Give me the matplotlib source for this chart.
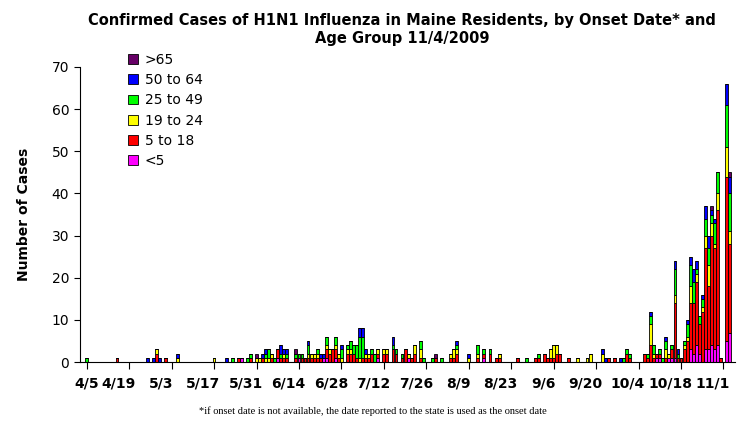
import matplotlib
matplotlib.use("Agg")
import matplotlib.pyplot as plt
import numpy as np
import datetime as dt

start = dt.date(2009, 4, 5)
days = [0,10,20,22,23,24,26,30,42,46,48,50,51,53,54,56,57,58,59,60,61,62,63,64,65,66,69,70,71,72,73,74,75,76,77,78,79,80,81,82,83,84,86,87,88,89,90,91,92,93,94,95,96,98,99,101,102,104,105,106,107,108,110,111,114,115,117,120,121,122,126,129,131,133,135,136,142,145,148,149,151,152,153,154,155,156,159,162,165,166,170,171,172,174,176,177,178,179,184,185,186,187,188,189,190,191,192,193,194,195,196,197,198,199,200,201,202,203,204,205,206,207,208,209,211,212]
lt5 =    [0,0,0,0,0,0,0,0,0,0,0,0,1,0,0,0,0,0,0,0,0,0,1,0,0,0,0,1,0,0,0,0,0,0,0,1,1,0,0,1,0,0,0,0,0,0,0,0,0,0,0,0,1,0,0,0,0,0,0,1,0,0,0,0,0,0,0,0,0,0,0,0,1,0,0,0,0,0,0,0,0,0,0,0,0,0,0,0,0,0,0,0,0,0,0,0,0,0,0,0,0,0,1,1,0,0,1,1,1,0,0,0,0,3,2,4,2,0,3,3,4,3,4,0,5,7]
a5_18 =  [0,1,0,0,2,0,1,0,0,0,0,1,0,0,1,0,0,1,0,0,1,0,2,1,1,1,1,0,1,1,1,1,1,1,1,0,2,2,3,2,1,0,2,2,2,1,0,1,1,1,2,0,1,2,2,3,2,1,3,0,1,2,1,0,0,1,0,1,1,2,0,1,1,2,1,1,1,0,1,1,2,1,1,1,2,2,1,0,0,0,0,0,1,1,0,0,2,1,2,1,4,1,1,1,0,1,0,2,13,1,1,3,5,11,12,15,7,12,24,15,26,24,32,1,39,21]
a19_24 = [0,0,0,0,1,0,0,1,1,0,0,0,0,0,0,1,1,0,1,1,1,0,0,0,1,0,0,0,0,0,1,1,1,1,0,0,1,1,0,1,1,1,1,1,0,0,1,0,1,1,0,0,1,1,1,0,0,0,0,1,0,2,2,0,0,0,0,1,2,1,1,1,0,0,0,1,0,0,0,0,0,0,2,3,2,0,0,1,1,2,2,0,0,0,0,0,0,0,0,0,5,1,0,0,0,2,1,0,2,0,0,1,1,4,0,2,0,1,3,5,3,1,4,0,7,3]
a25_49 = [1,0,0,0,0,0,0,0,0,0,1,0,0,1,1,0,0,0,1,2,0,1,0,1,0,1,1,1,1,0,2,0,0,1,0,0,2,0,0,2,0,2,1,2,2,3,5,5,0,0,1,2,0,0,0,1,1,1,0,0,0,0,2,1,1,0,1,0,0,1,0,2,1,1,0,0,0,1,0,1,0,0,0,0,0,0,0,0,0,0,0,0,0,0,0,1,1,1,0,1,2,2,0,1,1,2,0,1,6,1,0,1,3,5,5,1,2,2,4,4,2,5,5,0,10,9]
a50_64 = [0,0,1,1,0,1,0,1,0,1,0,0,0,0,0,0,0,1,1,0,0,0,0,2,1,1,0,0,0,0,1,0,0,0,1,1,0,0,0,0,0,1,0,0,0,0,2,2,1,0,0,0,0,0,0,2,0,0,0,0,0,0,0,0,0,0,0,0,0,1,1,0,0,0,0,0,0,0,0,0,0,0,0,0,0,0,0,0,0,0,1,1,0,0,1,0,0,0,0,0,1,0,0,0,0,1,0,0,2,1,0,0,1,2,3,2,0,1,3,3,1,1,0,0,5,4]
gt65 =   [0,0,0,0,0,0,0,0,0,0,0,0,0,0,0,1,0,0,0,0,0,0,0,0,0,0,1,0,0,0,0,0,0,0,0,0,0,0,0,0,0,0,0,0,0,0,0,0,0,0,0,0,0,0,0,0,0,0,0,0,0,0,0,0,0,1,0,0,0,0,0,0,0,0,0,0,0,0,0,0,0,0,0,0,0,0,0,0,0,0,0,0,0,0,0,0,0,0,0,0,0,0,0,0,0,0,0,0,0,0,0,0,0,0,0,0,0,0,0,0,1,0,0,0,0,1]

series = [("<5", lt5, "#FF00FF"), ("5 to 18", a5_18, "#FF0000"),
          ("19 to 24", a19_24, "#FFFF00"), ("25 to 49", a25_49, "#00FF00"),
          ("50 to 64", a50_64, "#0000FF"), (">65", gt65, "#660066")]

tick_days = list(range(0, 211, 14))
tick_labels = [f"{(start+dt.timedelta(d)).month}/{(start+dt.timedelta(d)).day}" for d in tick_days]

fig = plt.figure(figsize=(7.45, 4.24), dpi=100)
ax = fig.add_axes([0.107, 0.146, 0.880, 0.696])
x = np.array(days)
bottom = np.zeros(len(days))
handles = []
for name, vals, col in series:
    v = np.array(vals, dtype=float)
    h = ax.bar(x, v, bottom=bottom, width=0.95, color=col, edgecolor="black", linewidth=0.6, label=name)
    bottom += v
    handles.append(h)

ax.set_xlim(-2.3, 213.9)
ax.set_ylim(0, 70)
ax.set_yticks(range(0, 71, 10))
ax.tick_params(axis="y", labelsize=10, direction="out", length=4)
ax.set_xticks(tick_days)
ax.set_xticklabels([])
ax.tick_params(axis="x", direction="out", length=5)
for i, (d, lab) in enumerate(zip(tick_days, tick_labels)):
    pos = d if i == 0 else d - 3.5
    ax.text(pos, -0.05, lab, transform=ax.get_xaxis_transform(), ha="center", va="top",
            fontsize=10, fontweight="bold")
for s in ["top", "right"]:
    ax.spines[s].set_visible(False)
ax.set_ylabel("Number of Cases", fontsize=10, fontweight="bold")
ax.yaxis.set_label_coords(-0.075, 0.5)

leg = ax.legend(handles[::-1], [s[0] for s in series][::-1], loc="upper left",
                bbox_to_anchor=(0.055, 1.09), frameon=False, fontsize=10,
                handlelength=0.7, handleheight=0.7, labelspacing=0.45, handletextpad=0.5)

fig.text(0.54, 0.97, "Confirmed Cases of H1N1 Influenza in Maine Residents, by Onset Date* and\nAge Group 11/4/2009",
         ha="center", va="top", fontsize=10.5, fontweight="bold", linespacing=1.3)
fig.text(0.5, 0.03, "*if onset date is not available, the date reported to the state is used as the onset date",
         ha="center", va="center", fontsize=7.5, family="Liberation Serif")
fig.savefig("out.png", dpi=100)
